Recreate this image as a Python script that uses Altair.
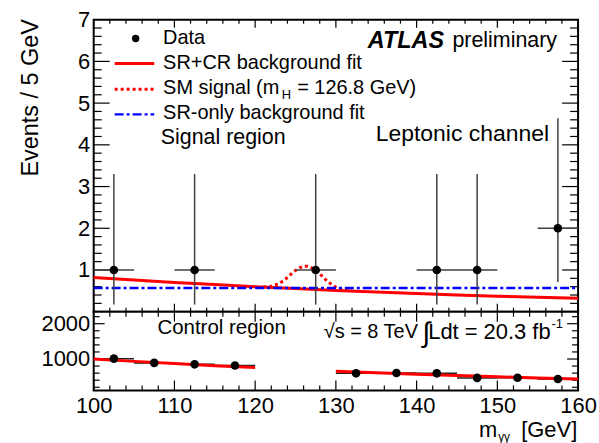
import altair as alt
import pandas as pd

# ---- signal region: diphoton candidates per 5 GeV bin ----
sr_mass = [102.5, 112.5, 127.5, 142.5, 147.5, 157.5]
sr_events = [1, 1, 1, 1, 1, 2]
sr_err_lo = [0.17, 0.17, 0.17, 0.17, 0.17, 0.71]
sr_err_hi = [3.30, 3.30, 3.30, 3.30, 3.30, 4.64]

# SR+CR background fit evaluated along the mass range
fit_mass = [100, 105, 110, 115, 120, 125, 130, 135, 140, 145, 150, 155, 160]
srcr_fit = [0.82, 0.76, 0.70, 0.65, 0.60, 0.555, 0.51, 0.47, 0.435, 0.40, 0.37, 0.345, 0.32]

# SR-only background fit (flat)
sronly_mass = [100, 160]
sronly_fit = [0.57, 0.57]

# SM signal (m_H = 126.8 GeV) stacked on the background
sig_mass = [121, 122, 122.5, 123, 123.5, 124, 124.5, 125, 125.5, 126, 126.5,
            127, 127.5, 128, 128.5, 129, 129.5, 130, 130.5, 131, 132]
sig_total = [0.59, 0.61, 0.64, 0.68, 0.74, 0.82, 0.91, 0.99, 1.05, 1.09, 1.09,
             1.05, 0.98, 0.91, 0.81, 0.72, 0.65, 0.59, 0.55, 0.52, 0.50]

# ---- control region ----
cr_mass = [102.5, 107.5, 112.5, 117.5, 132.5, 137.5, 142.5, 147.5, 152.5, 157.5]
cr_events = [1010, 890, 850, 815, 595, 605, 595, 465, 470, 435]
cr_fit_mass_lo = [100, 105, 110, 115, 120]
cr_fit_lo = [1000, 933, 870, 812, 757]
cr_fit_mass_hi = [130, 135, 140, 145, 150, 155, 160]
cr_fit_hi = [656, 612, 571, 533, 497, 464, 434]

# axis ticks
x_major = [100, 110, 120, 130, 140, 150, 160]
x_minor = [m for m in range(100, 161, 2) if m % 10 != 0]
top_y_major = [1, 2, 3, 4, 5, 6]
top_y_minor = [round(0.2 * i, 1) for i in range(1, 35) if i % 5 != 0]
bot_y_major = [1000, 2000]
bot_y_minor = [v for v in range(200, 2340, 200) if v % 1000 != 0]

FONT = "Liberation Sans"
RED = "#ff0000"
BLUE = "#0000ff"
W = 486
H_TOP = 293
H_BOT = 79
# page size and where the upper frame starts on it
PAGE_W, PAGE_H = 599, 443
ORIGIN_X, ORIGIN_Y = 93, 18

xs_top = alt.Scale(domain=[100, 160], nice=False, zero=False)
xs_bot = alt.Scale(domain=[100, 160], nice=False, zero=False)
ys_top = alt.Scale(domain=[0, 7], nice=False, zero=False)
ys_bot = alt.Scale(domain=[110, 2340], nice=False, zero=False)

label_style = dict(ticks=False, domain=False, grid=False, labelFontSize=22,
                   labelFont=FONT, labelColor="black", labelFlush=False,
                   labelOverlap=False)
AX_TOP_Y = alt.Axis(
    values=[1, 2, 3, 4, 5, 6, 7], labelPadding=4, **label_style,
    title="Events / 5 GeV", titleFont=FONT, titleFontSize=23.5,
    titleFontWeight="normal", titleColor="black", titleAngle=-90,
    titleAlign="right", titleBaseline="alphabetic", titleX=-56, titleY=-1)
AX_BOT_X = alt.Axis(values=x_major, format="d", labelPadding=5, title=None, **label_style)
AX_BOT_Y = alt.Axis(values=bot_y_major, format="d", labelPadding=4, title=None, **label_style)


def tx(field="x"):
    return alt.X(f"{field}:Q", scale=xs_top, axis=None)


def ty(field="y"):
    return alt.Y(f"{field}:Q", scale=ys_top, axis=AX_TOP_Y)


def bx(field="x"):
    return alt.X(f"{field}:Q", scale=xs_bot, axis=AX_BOT_X)


def by(field="y"):
    return alt.Y(f"{field}:Q", scale=ys_bot, axis=AX_BOT_Y)


def tick_layers(xenc, yenc, height, ymaj, ymin, ylen, xlen):
    """Inward-pointing ticks on all four sides of a frame."""
    out = []
    for vals, L in ((ymaj, ylen[0]), (ymin, ylen[1])):
        base = alt.Chart(pd.DataFrame({"y": vals})).mark_rule(color="black", strokeWidth=1.2)
        out.append(base.encode(y=yenc, x=alt.value(0), x2=alt.value(L)))
        out.append(base.encode(y=yenc, x=alt.value(W - L), x2=alt.value(W)))
    for vals, L in ((x_major, xlen[0]), (x_minor, xlen[1])):
        base = alt.Chart(pd.DataFrame({"x": vals})).mark_rule(color="black", strokeWidth=1.2)
        out.append(base.encode(x=xenc, y=alt.value(height - L), y2=alt.value(height)))
        out.append(base.encode(x=xenc, y=alt.value(0), y2=alt.value(L)))
    return out


def label(xs, ys, texts, size, xenc, yenc, align="left", **kw):
    df = pd.DataFrame({"x": xs, "y": ys, "t": texts})
    return alt.Chart(df).mark_text(font=FONT, fontSize=size, align=align,
                                   baseline="middle", color="black", **kw
                                   ).encode(x=xenc, y=yenc, text="t:N")


# transparent box spanning the whole page, so the padded layout lands the
# upper frame at ORIGIN_X, ORIGIN_Y
page_box = alt.Chart(pd.DataFrame({"k": [0]})).mark_rect(opacity=0).encode(
    x=alt.value(-ORIGIN_X), x2=alt.value(PAGE_W - ORIGIN_X),
    y=alt.value(-ORIGIN_Y), y2=alt.value(PAGE_H - ORIGIN_Y))

# ---------------- upper panel ----------------
sr = pd.DataFrame({"x": sr_mass, "y": sr_events, "lo": sr_err_lo, "hi": sr_err_hi})
sr["xlo"] = sr["x"] - 2.5
sr["xhi"] = sr["x"] + 2.5

fit_df = pd.DataFrame({"x": fit_mass, "y": srcr_fit})
sronly_df = pd.DataFrame({"x": sronly_mass, "y": sronly_fit})
sig_df = pd.DataFrame({"x": sig_mass, "y": sig_total})

DOT = [3, 3]
DASHDOT = [9, 3, 3, 3]

sig_line = alt.Chart(sig_df).mark_line(color=RED, strokeWidth=3, strokeDash=DOT).encode(x=tx(), y=ty())
fit_line = alt.Chart(fit_df).mark_line(color=RED, strokeWidth=3).encode(x=tx(), y=ty())
sronly_line = alt.Chart(sronly_df).mark_line(color=BLUE, strokeWidth=2.5, strokeDash=DASHDOT).encode(x=tx(), y=ty())

sr_vbar = alt.Chart(sr).mark_rule(color="#404040", strokeWidth=1.5).encode(
    x=tx(), y=ty("lo"), y2="hi:Q")
sr_hbar = alt.Chart(sr).mark_rule(color="#404040", strokeWidth=1.5).encode(
    x=tx("xlo"), x2="xhi:Q", y=ty())
sr_pts = alt.Chart(sr).mark_point(filled=True, color="black", size=75, opacity=1).encode(x=tx(), y=ty())

# legend
leg_pt = alt.Chart(pd.DataFrame({"x": [105.2], "y": [6.55]})).mark_point(
    filled=True, color="black", size=55, opacity=1).encode(x=tx(), y=ty())
leg_fit = alt.Chart(pd.DataFrame({"x": [102.6, 107.5], "y": [5.95, 5.95]})).mark_line(
    color=RED, strokeWidth=3).encode(x=tx(), y=ty())
leg_sig = alt.Chart(pd.DataFrame({"x": [102.6, 107.5], "y": [5.33, 5.33]})).mark_line(
    color=RED, strokeWidth=3, strokeDash=DOT).encode(x=tx(), y=ty())
leg_sronly = alt.Chart(pd.DataFrame({"x": [102.6, 107.5], "y": [4.73, 4.73]})).mark_line(
    color=BLUE, strokeWidth=2.5, strokeDash=DASHDOT).encode(x=tx(), y=ty())

leg_text = label([108.6, 108.6, 108.6, 108.6], [6.57, 5.95, 5.36, 4.77],
                 ["Data", "SR+CR background fit", "SM signal (m", "SR-only background fit"],
                 20, tx(), ty())
leg_sub = label([123.3], [5.2], ["H"], 13, tx(), ty())
leg_tail = label([125.2], [5.36], ["= 126.8 GeV)"], 20, tx(), ty())
sig_region = label([108.3], [4.17], ["Signal region"], 21.5, tx(), ty())

atlas = label([143.4], [6.5], ["ATLAS"], 23.5, tx(), ty(), align="right",
              fontWeight="bold", fontStyle="italic")
prelim = label([157.4], [6.5], ["preliminary"], 21.5, tx(), ty(), align="right")
channel = label([156.4], [4.25], ["Leptonic channel"], 23, tx(), ty(), align="right")

top = alt.layer(
    page_box,
    *tick_layers(tx(), ty(), H_TOP, top_y_major, top_y_minor, (16, 8), (8, 4)),
    sig_line, fit_line, sronly_line, sr_vbar, sr_hbar, sr_pts,
    leg_pt, leg_fit, leg_sig, leg_sronly, leg_text, leg_sub, leg_tail, sig_region,
    atlas, prelim, channel,
).properties(width=W, height=H_TOP)

# ---------------- lower panel ----------------
cr = pd.DataFrame({"x": cr_mass, "y": cr_events})
cr["xlo"] = cr["x"] - 2.5
cr["xhi"] = cr["x"] + 2.5
cr_fit_df = pd.concat([
    pd.DataFrame({"x": cr_fit_mass_lo, "y": cr_fit_lo, "seg": "low"}),
    pd.DataFrame({"x": cr_fit_mass_hi, "y": cr_fit_hi, "seg": "high"}),
])

cr_hbar = alt.Chart(cr).mark_rule(color="#202020", strokeWidth=1.5).encode(
    x=bx("xlo"), x2="xhi:Q", y=by())
cr_fit = alt.Chart(cr_fit_df).mark_line(color=RED, strokeWidth=3).encode(
    x=bx(), y=by(), detail="seg:N")
cr_pts = alt.Chart(cr).mark_point(filled=True, color="black", size=75, opacity=1).encode(x=bx(), y=by())

cr_label = label([107.9], [1885], ["Control region"], 20.5, bx(), by())
lumi_a = label([128.5], [1755], ["√s = 8 TeV"], 20, bx(), by())
lumi_int = label([141.2], [1700], ["∫"], 28, bx(), by(), align="center")
lumi_b = label([156.6], [1755], ["Ldt = 20.3 fb"], 22, bx(), by(), align="right")
lumi_sup = label([156.7], [1990], ["-1"], 13, bx(), by())

xt_m = label([150.0], [-1020], ["m"], 22, bx(), by(), align="right")
xt_sub = label([150.1], [-1200], ["γγ"], 12, bx(), by())
xt_unit = label([159.9], [-1020], ["[GeV]"], 22, bx(), by(), align="right")

bottom = alt.layer(
    *tick_layers(bx(), by(), H_BOT, bot_y_major, bot_y_minor, (11, 6), (10, 5)),
    cr_hbar, cr_fit, cr_pts, cr_label, lumi_a, lumi_int, lumi_b, lumi_sup,
    xt_m, xt_sub, xt_unit,
).properties(width=W, height=H_BOT)

chart = alt.vconcat(top, bottom, spacing=0, bounds="flush").resolve_scale(
    x="independent", y="independent"
).properties(
    autosize=alt.AutoSizeParams(type="pad"),
    padding=0,
    background="white",
).configure_view(
    stroke="black", strokeWidth=2, fill="white"
).configure_text(font=FONT)

chart.save("out.html", embed_options={"renderer": "svg", "actions": False})
